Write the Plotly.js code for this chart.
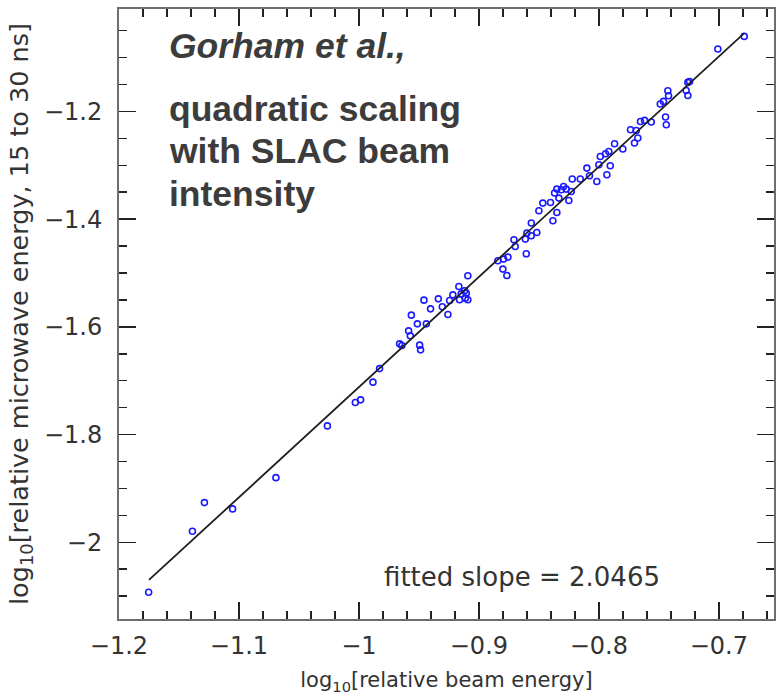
<!DOCTYPE html>
<html>
<head>
<meta charset="utf-8">
<script src="https://cdn.plot.ly/plotly-3.0.1.min.js"></script>
<style>html,body{margin:0;padding:0;background:#fff;}#chart{width:784px;height:699px;}</style>
</head>
<body>
<div id="chart"></div>
<script>
// log10 relative beam energy (x) for each measured shot
const beamEnergy = [
  -1.1753, -1.1388, -1.1288, -1.1053, -1.0692, -1.0263, -1.0030, -0.9986, -0.9883, -0.9828,
  -0.9661, -0.9642, -0.9586, -0.9572, -0.9563, -0.9494, -0.9486, -0.9513, -0.9438, -0.9458,
  -0.9403, -0.9338, -0.9305, -0.9258, -0.9244, -0.9217, -0.9167, -0.9161, -0.9147, -0.9119,
  -0.9105, -0.9113, -0.9092, -0.9092, -0.8842, -0.8794, -0.8758, -0.8800, -0.8767, -0.8708,
  -0.8697, -0.8613, -0.8605, -0.8600, -0.8563, -0.8517, -0.8563, -0.8500, -0.8467, -0.8383,
  -0.8350, -0.8403, -0.8369, -0.8350, -0.8333, -0.8313, -0.8294, -0.8272, -0.8250, -0.8230,
  -0.8222, -0.8155, -0.8100, -0.8078, -0.8017, -0.8000, -0.7988, -0.7944, -0.7917, -0.7905,
  -0.7933, -0.7869, -0.7800, -0.7703, -0.7675, -0.7736, -0.7688, -0.7653, -0.7619, -0.7563,
  -0.7488, -0.7461, -0.7419, -0.7425, -0.7444, -0.7438, -0.7272, -0.7258, -0.7258, -0.7244,
  -0.7008, -0.6788
];
// log10 relative microwave energy, 15 to 30 ns (y)
const microwaveEnergy = [
  -2.0929, -1.9796, -1.9264, -1.9381, -1.8800, -1.7839, -1.7406, -1.7356, -1.7027, -1.6775,
  -1.6316, -1.6347, -1.6074, -1.6167, -1.5783, -1.6340, -1.6427, -1.5944, -1.5944, -1.5504,
  -1.5666, -1.5480, -1.5628, -1.5771, -1.5511, -1.5406, -1.5251, -1.5498, -1.5387, -1.5331,
  -1.5374, -1.5467, -1.5498, -1.5052, -1.4774, -1.4742, -1.4705, -1.4928, -1.5047, -1.4384,
  -1.4508, -1.4371, -1.4644, -1.4259, -1.4309, -1.4248, -1.4073, -1.3845, -1.3702, -1.4031,
  -1.3876, -1.3691, -1.3516, -1.3442, -1.3609, -1.3455, -1.3393, -1.3442, -1.3653, -1.3486,
  -1.3256, -1.3256, -1.3052, -1.3195, -1.3301, -1.2990, -1.2836, -1.2786, -1.2743, -1.3009,
  -1.3176, -1.2600, -1.2699, -1.2587, -1.2494, -1.2340, -1.2353, -1.2186, -1.2167, -1.2197,
  -1.1863, -1.1814, -1.1708, -1.1615, -1.2104, -1.2247, -1.1610, -1.1703, -1.1461, -1.1443,
  -1.0841, -1.0607
];
// fitted line end points (slope 2.0465)
const fitX = [-1.175, -0.679];
const fitY = [-2.070, -1.055];

const xTickVals = [-1.2, -1.1, -1.0, -0.9, -0.8, -0.7];
const xTickText = ['\u22121.2', '\u22121.1', '\u22121', '\u22120.9', '\u22120.8', '\u22120.7'];
const yTickVals = [-2.0, -1.8, -1.6, -1.4, -1.2];
const yTickText = ['\u22122', '\u22121.8', '\u22121.6', '\u22121.4', '\u22121.2'];

const labelLines = ['<i>Gorham et al.,</i>', 'quadratic scaling', 'with SLAC beam', 'intensity'];
const labelY = [0.940, 0.836, 0.767, 0.697];
const slopeText = 'fitted slope = 2.0465';

const traces = [
  {
    x: beamEnergy, y: microwaveEnergy, type: 'scatter', mode: 'markers',
    marker: {symbol: 'circle-open', size: 6, color: '#1a1aff', line: {width: 1.6, color: '#1a1aff'}},
    hoverinfo: 'x+y', showlegend: false
  },
  {
    x: fitX, y: fitY, type: 'scatter', mode: 'lines',
    line: {color: '#1e1e1e', width: 1.8}, showlegend: false, hoverinfo: 'skip'
  }
];

const pgFont = 'DejaVu Sans, sans-serif';
const axisCommon = {
  showgrid: false, zeroline: false,
  showline: true, linecolor: '#6e6e6e', linewidth: 2, mirror: 'allticks',
  ticks: 'inside', ticklen: 17, tickwidth: 1.5, tickcolor: '#222',
  tickfont: {family: pgFont, size: 24, color: '#333'},
};

const annotations = labelLines.map((t, i) => ({
  xref: 'paper', yref: 'paper', x: 0.074, y: labelY[i],
  xanchor: 'left', yanchor: 'middle', showarrow: false,
  text: '<b>' + t + '</b>',
  font: {family: 'Liberation Sans, Arial, sans-serif', size: 35.5, color: '#3c3c3c'}
}));
annotations.push({
  xref: 'paper', yref: 'paper', x: 0.615, y: 0.069,
  xanchor: 'center', yanchor: 'middle', showarrow: false,
  text: slopeText,
  font: {family: pgFont, size: 26, color: '#333'}
});

const layout = {
  width: 784, height: 699,
  margin: {l: 119, r: 10, t: 9, b: 80, pad: 0},
  paper_bgcolor: '#fff', plot_bgcolor: '#fff',
  xaxis: Object.assign({}, axisCommon, {
    range: [-1.2, -0.654], tickvals: xTickVals, ticktext: xTickText,
    ticklabelstandoff: 4,
    minor: {dtick: 0.02, tick0: -1.2, ticks: 'inside', ticklen: 8, tickwidth: 1.5, tickcolor: '#222', showgrid: false},
    title: {text: 'log<sub>10</sub>[relative beam energy]', font: {family: pgFont, size: 21, color: '#333'}, standoff: 14}
  }),
  yaxis: Object.assign({}, axisCommon, {
    range: [-2.1425, -1.0098], tickvals: yTickVals, ticktext: yTickText,
    ticklabelstandoff: 10,
    minor: {dtick: 0.05, tick0: -2.0, ticks: 'inside', ticklen: 8, tickwidth: 1.5, tickcolor: '#222', showgrid: false},
    title: {text: 'log<sub>10</sub>[relative microwave energy, 15 to 30 ns]', font: {family: pgFont, size: 25.5, color: '#333'}, standoff: 8}
  }),
  annotations: annotations,
  showlegend: false
};

Plotly.newPlot('chart', traces, layout, {displayModeBar: false, staticPlot: true});
</script>
</body>
</html>
